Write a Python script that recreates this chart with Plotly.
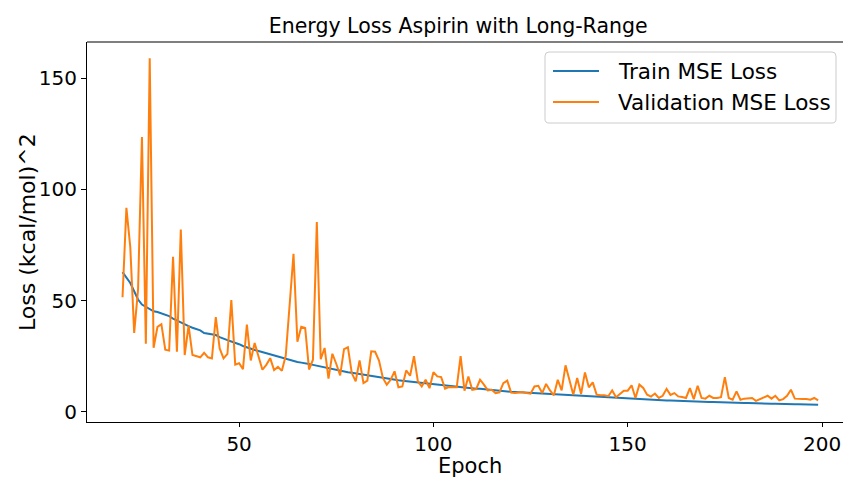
import plotly.graph_objects as go

epochs = list(range(20, 200))

train_loss = [
    62.8, 60.2, 57.9, 54.2, 50.5, 48.2, 47.2, 46.3, 45.2, 44.9,
    44.2, 43.4, 43.0, 41.9, 41.0, 40.2, 39.3, 38.5, 37.8, 37.2,
    36.6, 35.4, 35.0, 34.8, 34.5, 33.6, 32.8, 32.2, 31.6, 31.1,
    30.4, 29.6, 28.9, 28.4, 27.8, 27.3, 26.8, 26.4, 25.8, 25.2,
    24.6, 24.1, 23.7, 23.4, 22.8, 22.4, 22.1, 21.9, 21.5, 21.1,
    20.7, 20.3, 19.9, 19.6, 19.2, 18.9, 18.5, 18.1, 17.8, 17.5,
    17.2, 16.9, 16.6, 16.3, 16.0, 15.7, 15.4, 15.2, 14.9, 14.7,
    14.5, 14.2, 14.0, 13.8, 13.6, 13.4, 13.2, 13.0, 12.8, 12.7,
    12.5, 12.3, 12.1, 11.9, 11.7, 11.5, 11.3, 11.1, 10.9, 10.8,
    10.6, 10.4, 10.3, 10.1, 9.9, 9.8, 9.6, 9.5, 9.3, 9.2,
    9.0, 8.9, 8.8, 8.6, 8.5, 8.4, 8.3, 8.2, 8.0, 7.9,
    7.8, 7.7, 7.6, 7.5, 7.4, 7.3, 7.2, 7.1, 7.0, 6.9,
    6.8, 6.7, 6.6, 6.5, 6.4, 6.3, 6.2, 6.1, 6.0, 5.9,
    5.9, 5.8, 5.7, 5.6, 5.6, 5.5, 5.4, 5.3, 5.3, 5.2,
    5.1, 5.1, 5.0, 4.9, 4.9, 4.8, 4.7, 4.7, 4.6, 4.5,
    4.5, 4.4, 4.4, 4.3, 4.2, 4.2, 4.1, 4.1, 4.0, 4.0,
    3.9, 3.9, 3.8, 3.8, 3.7, 3.7, 3.6, 3.6, 3.6, 3.5,
    3.5, 3.5, 3.4, 3.4, 3.4, 3.3, 3.3, 3.3, 3.2, 3.2,
]

val_loss = [
    51.5, 91.7, 74.0, 35.5, 55.0, 123.6, 30.6, 159.0, 28.8, 38.2,
    39.4, 27.9, 27.5, 69.7, 27.0, 82.0, 25.5, 38.7, 25.5, 25.0,
    24.5, 26.5, 24.5, 24.0, 42.6, 28.5, 24.0, 26.0, 50.2, 21.2,
    21.8, 19.2, 39.2, 23.1, 30.9, 24.9, 18.9, 21.1, 24.1, 18.8,
    20.2, 18.4, 25.2, 48.0, 71.0, 31.5, 38.2, 37.7, 19.0, 23.4,
    85.3, 23.6, 28.7, 14.9, 26.1, 21.6, 16.4, 28.2, 29.0, 17.4,
    13.7, 23.1, 12.9, 14.0, 27.2, 27.0, 23.0, 15.2, 12.2, 14.4,
    18.2, 11.0, 11.4, 18.6, 16.2, 25.0, 13.7, 11.4, 14.4, 10.6,
    17.8, 15.9, 15.6, 10.4, 11.1, 11.0, 11.0, 25.0, 9.5, 15.9,
    9.9, 10.2, 14.4, 12.2, 9.6, 9.9, 8.4, 8.7, 12.9, 14.0,
    8.6, 8.4, 8.5, 8.9, 8.4, 8.1, 11.4, 11.7, 8.4, 12.5,
    9.6, 7.4, 14.4, 9.6, 20.9, 13.7, 7.7, 15.2, 8.0, 17.7,
    11.0, 13.2, 7.7, 7.4, 7.4, 7.0, 9.6, 6.5, 8.0, 9.5,
    9.5, 11.9, 6.2, 12.2, 10.7, 7.7, 6.8, 8.2, 6.2, 7.2,
    10.3, 7.6, 8.4, 6.9, 6.6, 6.2, 10.6, 5.7, 11.7, 6.2,
    5.9, 7.2, 6.2, 6.2, 6.6, 15.6, 6.2, 5.4, 9.2, 5.4,
    5.9, 5.9, 6.2, 4.9, 5.7, 6.2, 7.2, 5.9, 7.2, 5.1,
    5.7, 7.2, 9.9, 5.9, 5.7, 5.7, 5.7, 5.4, 6.2, 5.1,
]

series_names = ["Train MSE Loss", "Validation MSE Loss"]
series_colors = ["#1f77b4", "#ff7f0e"]

x_ticks = [50, 100, 150, 200]
y_ticks = [0, 50, 100, 150]

FONT = "DejaVu Sans"
W, H = 843, 478
ML, MR, MT, MB = 87, 0, 42, 56
PW, PH = W - ML - MR, H - MT - MB


def px_x(p):
    return (p - ML) / PW


def px_y(p):
    return (H - MB - p) / PH


fig = go.Figure()
for name, ys, col in zip(series_names, [train_loss, val_loss], series_colors):
    fig.add_trace(go.Scatter(x=epochs, y=ys, mode="lines", name=name,
                             line=dict(color=col, width=2), showlegend=False))


def rounded_path(x0, y0, x1, y1, rr):
    def P(x, y):
        return f"{px_x(x):.5f},{px_y(y):.5f}"
    return (f"M {P(x0 + rr, y0)} L {P(x1 - rr, y0)} Q {P(x1, y0)} {P(x1, y0 + rr)} "
            f"L {P(x1, y1 - rr)} Q {P(x1, y1)} {P(x1 - rr, y1)} "
            f"L {P(x0 + rr, y1)} Q {P(x0, y1)} {P(x0, y1 - rr)} "
            f"L {P(x0, y0 + rr)} Q {P(x0, y0)} {P(x0 + rr, y0)} Z")


shapes = [
    dict(type="line", xref="paper", yref="paper", x0=0, x1=1, y0=1, y1=1,
         line=dict(color="black", width=1.2)),
    dict(type="path", xref="paper", yref="paper", path=rounded_path(545, 52, 836, 123, 4),
         fillcolor="rgba(255,255,255,0.8)", line=dict(color="#cccccc", width=1)),
]
annotations = []
legend_rows = [71, 102]
for name, col, yy in zip(series_names, series_colors, legend_rows):
    shapes.append(dict(type="line", xref="paper", yref="paper", x0=px_x(553), x1=px_x(599),
                       y0=px_y(yy), y1=px_y(yy), line=dict(color=col, width=2)))
    annotations.append(dict(text=name, xref="paper", yref="paper", x=px_x(616), y=px_y(yy),
                            xanchor="left", yanchor="middle", showarrow=False,
                            font=dict(family=FONT, size=21.5, color="black")))

# axis titles as annotations for precise placement
annotations.append(dict(text="Loss (kcal/mol)^2", xref="paper", yref="paper",
                        x=px_x(27), y=px_y(232), xanchor="center", yanchor="middle",
                        textangle=-90, showarrow=False,
                        font=dict(family=FONT, size=22, color="black")))
annotations.append(dict(text="Epoch", xref="paper", yref="paper",
                        x=px_x(470), y=px_y(465.5), xanchor="center", yanchor="middle",
                        showarrow=False,
                        font=dict(family=FONT, size=21, color="black")))

fig.update_layout(
    width=W, height=H,
    margin=dict(l=ML, r=MR, t=MT, b=MB),
    paper_bgcolor="white", plot_bgcolor="white",
    font=dict(family=FONT, size=20, color="black"),
    title=dict(text="Energy Loss Aspirin with Long-Range", xref="paper", x=0.491,
               xanchor="center", yref="container", y=1 - 26 / 478, yanchor="middle",
               font=dict(family=FONT, size=20.5, color="black")),
    showlegend=False,
    xaxis=dict(range=[10.86, 205.4], tickvals=x_ticks, showgrid=False, zeroline=False,
               showline=True, linecolor="black", linewidth=1.2, ticks="outside",
               ticklen=4, tickwidth=1.2, tickcolor="black",
               tickfont=dict(family=FONT, size=20, color="black")),
    yaxis=dict(range=[-4.6, 166.3], tickvals=y_ticks, showgrid=False, zeroline=False,
               showline=True, linecolor="black", linewidth=1.2, ticks="outside",
               ticklen=5, tickwidth=1.2, tickcolor="black",
               tickfont=dict(family=FONT, size=20, color="black")),
    shapes=shapes,
    annotations=annotations,
)

fig.write_html("out.html")
